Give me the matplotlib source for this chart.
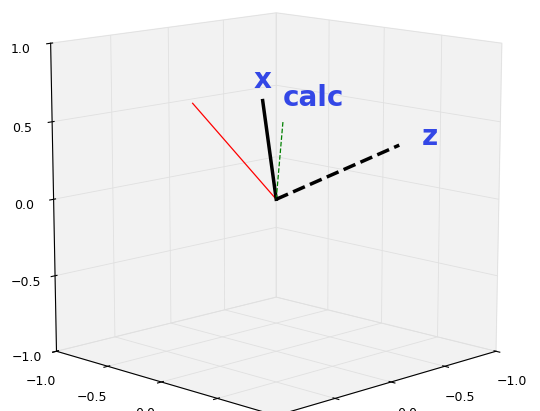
import numpy as np
import matplotlib
matplotlib.use('Agg')
import matplotlib.pyplot as plt

# vector endpoints (from origin)
red_vec = [0.3, -0.45, 0.6]
x_vec = [0.12, 0.0, 0.65]
calc_vec = [-0.03, 0.03, 0.5]
z_vec = [-0.55, 0.55, 0.35]
ticks = [-1.0, -0.5, 0.0, 0.5, 1.0]

fig = plt.figure(figsize=(5.4, 4.11), dpi=100)
ax = fig.add_axes([-0.06, -0.06, 1.12, 1.12], projection='3d')
ax.view_init(elev=12, azim=45)
ax.set_box_aspect((1, 1, 1), zoom=1.15)

ax.plot([0, red_vec[0]], [0, red_vec[1]], [0, red_vec[2]], color='red', lw=0.9)
ax.plot([0, x_vec[0]], [0, x_vec[1]], [0, x_vec[2]], color='black', lw=2.5)
ax.plot([0, calc_vec[0]], [0, calc_vec[1]], [0, calc_vec[2]], color='green', lw=0.9, ls='--')
ax.plot([0, z_vec[0]], [0, z_vec[1]], [0, z_vec[2]], color='black', lw=2.5, ls='--')

lab = dict(color='#3347e6', fontsize=20, fontweight='bold')
ax.text(x_vec[0], x_vec[1], x_vec[2] + 0.08, 'x', ha='center', **lab)
ax.text(calc_vec[0], calc_vec[1], calc_vec[2] + 0.1, 'calc', ha='left', **lab)
ax.text(z_vec[0] - 0.1, z_vec[1] + 0.1, z_vec[2], 'z', ha='left', **lab)

ax.set_xlim(-1, 1); ax.set_ylim(-1, 1); ax.set_zlim(-1, 1)
ax.set_xticks(ticks); ax.set_yticks(ticks); ax.set_zticks(ticks)
for a in (ax.xaxis, ax.yaxis, ax.zaxis):
    a.set_pane_color((0.95, 0.95, 0.95, 1.0))
    a._axinfo['grid']['color'] = (0.88, 0.88, 0.88, 1)
    a._axinfo['grid']['linewidth'] = 0.6
ax.tick_params(labelsize=9)

fig.savefig('out.png', dpi=100, facecolor='white')
